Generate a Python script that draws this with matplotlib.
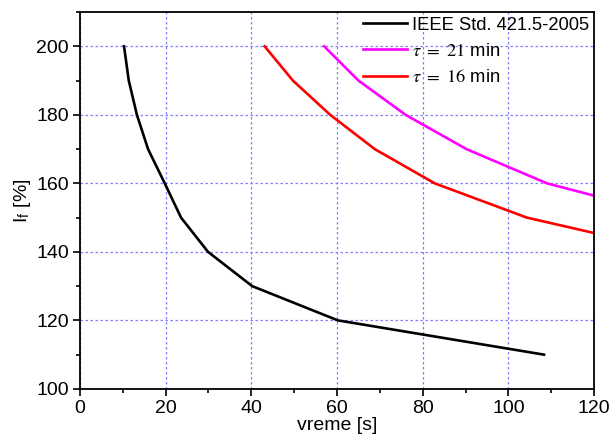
import matplotlib
matplotlib.use('Agg')
import matplotlib.pyplot as plt
from matplotlib.ticker import MultipleLocator

plt.rcParams['font.family'] = ['Liberation Sans', 'DejaVu Sans']
plt.rcParams['mathtext.fontset'] = 'stix'

# IEEE Std. 421.5-2005 overexcitation limit curve
ieee_t = [10.3, 11.4, 13.3, 15.9, 19.8, 23.6, 29.9, 40.2, 60.2, 108.3]
ieee_i = [200, 190, 180, 170, 160, 150, 140, 130, 120, 110]

# thermal model, tau = 21 min
tau21_t = [57, 65, 76, 90.2, 109, 120]
tau21_i = [200, 190, 180, 170, 160, 156.4]

# thermal model, tau = 16 min
tau16_t = [43.1, 49.7, 58.4, 68.8, 82.8, 104.3, 120]
tau16_i = [200, 190, 180, 170, 160, 150, 145.5]

fig = plt.figure(figsize=(6.1, 4.46), dpi=100)
ax = fig.add_axes([0.131, 0.128, 0.843, 0.845])

ax.plot(ieee_t, ieee_i, color='black', lw=1.9, label='IEEE Std. 421.5-2005')
ax.plot(tau21_t, tau21_i, color='#ff00ff', lw=1.9, label=r'$\tau\ =\ 21$ min')
ax.plot(tau16_t, tau16_i, color='#ff0000', lw=1.9, label=r'$\tau\ =\ 16$ min')

ax.set_xlim(0, 120)
ax.set_ylim(100, 210)
ax.xaxis.set_major_locator(MultipleLocator(20))
ax.xaxis.set_minor_locator(MultipleLocator(10))
ax.yaxis.set_major_locator(MultipleLocator(20))
ax.yaxis.set_minor_locator(MultipleLocator(10))
ax.tick_params(which='both', direction='out', labelsize=14, width=1.2)
ax.tick_params(which='major', length=5, pad=3)
ax.tick_params(which='minor', length=3)
ax.grid(True, which='major', color='#7f7fff', linestyle=(0, (2, 2)), lw=0.9)
for s in ax.spines.values():
    s.set_linewidth(1.3)

ax.set_xlabel('vreme [s]', fontsize=14, labelpad=0)
ax.set_ylabel(r'I$_\mathregular{f}$ [%]', fontsize=14, labelpad=2)

ax.legend(loc='upper right', frameon=False, fontsize=13.2, handlelength=2.4,
          handletextpad=0.3, labelspacing=0.5, borderaxespad=0.1,
          borderpad=0.15)

fig.savefig('out.png', dpi=100)
